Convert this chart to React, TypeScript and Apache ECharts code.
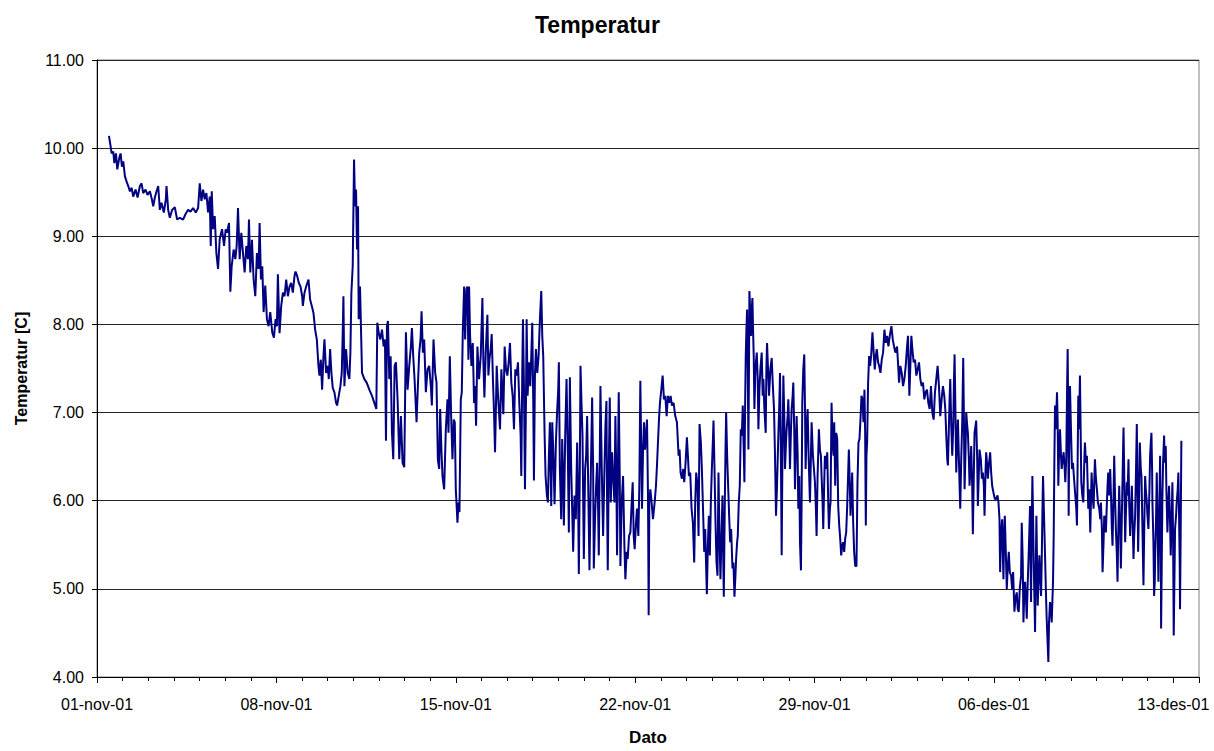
import React, { useEffect, useRef } from "react";
import * as echarts from "echarts";

const FONT = "'Liberation Sans', Arial, Helvetica, sans-serif";

// x tick labels (one every 7 days, day 0 = 01-nov-01)
const dateLabels = ["01-nov-01", "08-nov-01", "15-nov-01", "22-nov-01", "29-nov-01", "06-des-01", "13-des-01"];

// [days since 01-nov-01 00:00, temperature °C]
const week1: number[][] = [
  [0.467,10.14],[0.532,10.02],[0.571,9.94],[0.636,9.96],[0.675,9.83],[0.74,9.94],[0.791,9.76],[0.869,9.89],[0.921,9.94],[0.973,9.79],[1.025,9.85],[1.09,9.68],[1.155,9.62],[1.22,9.57],[1.285,9.51],[1.35,9.55],[1.414,9.45],[1.505,9.53],[1.583,9.44],[1.674,9.57],[1.739,9.6],[1.803,9.49],[1.894,9.53],[1.972,9.47],[2.063,9.51],[2.141,9.42],[2.193,9.34],[2.258,9.44],[2.323,9.51],[2.388,9.57],[2.452,9.3],[2.517,9.38],[2.608,9.27],[2.686,9.42],[2.712,9.57],[2.777,9.3],[2.842,9.21],[2.932,9.3],[3.036,9.33],[3.127,9.19],[3.231,9.21],[3.36,9.19],[3.451,9.25],[3.555,9.3],[3.646,9.28],[3.75,9.32],[3.854,9.27],[3.945,9.32],[4.009,9.6],[4.074,9.4],[4.139,9.53],[4.204,9.42],[4.269,9.49],[4.334,9.27],[4.399,9.45],[4.438,8.89],[4.477,9.51],[4.529,9.08],[4.593,9.23],[4.658,8.81],[4.723,8.63],[4.788,8.97],[4.879,9.08],[4.957,8.89],[5.021,9.08],[5.073,9.04],[5.151,9.15],[5.203,8.37],[5.255,8.66],[5.333,8.85],[5.398,8.74],[5.45,8.89],[5.502,9.32],[5.567,8.74],[5.632,9.04],[5.696,8.81],[5.761,8.59],[5.826,8.89],[5.891,8.74],[5.93,9.19],[5.982,8.59],[6.046,8.96],[6.111,8.51],[6.176,8.32],[6.241,8.81],[6.306,8.63],[6.345,9.15],[6.397,8.51],[6.449,8.66],[6.501,8.14],[6.566,8.44],[6.63,8.06],[6.695,7.98],[6.76,8.14],[6.838,7.91],[6.903,7.85],[6.968,8.06],[7.02,7.98],[7.058,8.57],[7.123,7.9],[7.188,8.21],[7.253,8.36]
];

const week2: number[][] = [
  [7.318,8.32],[7.383,8.51],[7.448,8.32],[7.513,8.43],[7.577,8.47],[7.642,8.36],[7.707,8.55],[7.746,8.6],[7.811,8.55],[7.876,8.47],[7.941,8.43],[8.006,8.32],[8.032,8.21],[8.097,8.36],[8.161,8.43],[8.252,8.51],[8.317,8.28],[8.382,8.21],[8.447,8.13],[8.512,7.94],[8.577,7.83],[8.641,7.53],[8.68,7.42],[8.732,7.6],[8.784,7.26],[8.836,7.64],[8.875,7.83],[8.94,7.45],[9.005,7.53],[9.044,7.38],[9.096,7.72],[9.147,7.45],[9.199,7.28],[9.264,7.23],[9.329,7.11],[9.368,7.08],[9.433,7.19],[9.498,7.3],[9.55,7.45],[9.589,7.91],[9.615,8.32],[9.654,7.3],[9.718,7.72],[9.783,7.45],[9.848,7.38],[9.887,7.68],[9.926,8.36],[9.978,8.66],[10.03,9.87],[10.069,9.34],[10.108,9.53],[10.147,8.85],[10.186,9.34],[10.211,8.06],[10.263,8.43],[10.341,7.45],[10.432,7.38],[10.523,7.34],[10.627,7.26],[10.73,7.19],[10.821,7.11],[10.899,7.04],[10.938,8.02],[10.99,7.91],[11.055,7.83],[11.12,7.94],[11.185,7.75],[11.236,7.83],[11.276,6.68],[11.314,7.98],[11.353,8.04],[11.405,7.38],[11.457,7.64],[11.509,6.77],[11.561,6.47],[11.613,7.53],[11.664,7.57],[11.729,7.15],[11.794,6.47],[11.859,6.96],[11.924,6.43],[11.989,6.38],[12.054,7.91],[12.119,7.26],[12.184,7.53],[12.248,7.75],[12.287,7.96],[12.339,7.64],[12.391,7.38],[12.469,6.89],[12.521,7.3],[12.573,7.68],[12.625,7.83],[12.664,8.15],[12.716,7.68],[12.767,7.83],[12.832,7.23],[12.897,7.49],[12.962,7.53],[13.027,7.3],[13.066,7.08],[13.131,7.83],[13.196,7.45],[13.248,7.34],[13.3,6.47],[13.351,6.36],[13.39,7.04],[13.442,6.55],[13.481,6.28],[13.546,6.13],[13.611,6.81],[13.676,7.15],[13.715,6.77],[13.767,7.64],[13.819,6.96],[13.87,6.47],[13.922,6.92],[13.961,6.89],[14.0,6.13],[14.039,5.91],[14.065,5.75],[14.104,5.98],[14.143,5.87],[14.195,7.15],[14.234,7.23],[14.273,7.91],[14.325,8.43],[14.364,7.83],[14.415,8.4],[14.454,8.43],[14.493,7.6]
];

const week3: number[][] = [
  [14.519,8.43],[14.558,7.87],[14.61,7.53],[14.662,7.79],[14.714,7.11],[14.753,7.3],[14.792,6.85],[14.844,7.75],[14.908,7.38],[14.973,7.64],[15.038,8.3],[15.077,7.57],[15.116,7.17],[15.168,7.68],[15.233,8.11],[15.272,7.42],[15.311,7.6],[15.363,7.72],[15.401,7.89],[15.453,7.34],[15.492,7.0],[15.531,6.55],[15.57,7.11],[15.596,7.53],[15.648,7.19],[15.687,7.0],[15.726,6.81],[15.778,7.49],[15.817,7.26],[15.856,6.98],[15.907,7.75],[15.959,7.49],[16.011,7.42],[16.063,7.57],[16.115,7.79],[16.167,7.34],[16.219,7.19],[16.271,6.81],[16.322,7.49],[16.374,7.42],[16.426,7.57],[16.478,7.11],[16.53,6.74],[16.556,6.28],[16.595,7.49],[16.621,8.06],[16.66,7.3],[16.699,6.13],[16.738,7.11],[16.764,8.06],[16.803,7.19],[16.855,7.57],[16.906,7.3],[16.945,7.64],[16.984,8.02],[17.023,7.11],[17.049,6.23],[17.088,7.42],[17.127,7.72],[17.179,7.45],[17.231,7.64],[17.283,8.06],[17.335,8.38],[17.374,7.87],[17.412,7.64],[17.464,6.77],[17.503,6.28],[17.555,6.06],[17.594,5.98],[17.633,6.51],[17.672,6.89],[17.724,5.94],[17.763,6.89],[17.802,6.58],[17.854,5.96],[17.906,6.66],[17.958,7.04],[17.997,7.26],[18.022,7.57],[18.061,6.36],[18.113,5.79],[18.152,6.7],[18.191,6.21],[18.217,5.72],[18.269,6.74],[18.321,7.38],[18.373,6.51],[18.412,5.64],[18.451,7.4],[18.503,6.36],[18.541,5.91],[18.58,5.42],[18.632,6.06],[18.684,5.79],[18.736,6.66],[18.775,5.98],[18.801,5.17],[18.84,6.36],[18.866,7.53],[18.905,7.11],[18.944,6.74],[18.996,5.34],[19.047,6.36],[19.086,6.51],[19.125,6.96],[19.177,5.98],[19.216,5.21],[19.268,6.28],[19.32,7.17],[19.359,6.36],[19.385,5.23],[19.437,5.83],[19.476,6.17],[19.515,6.43],[19.554,5.91],[19.58,5.38],[19.619,6.51],[19.644,7.3],[19.696,6.36],[19.748,5.6],[19.787,6.17],[19.839,6.85],[19.878,7.13],[19.904,5.98],[19.93,5.21],[19.969,6.36],[20.008,7.17],[20.047,5.98],[20.099,6.55],[20.138,6.28],[20.19,5.98],[20.228,6.96],[20.267,6.21],[20.293,5.38],[20.332,6.51],[20.358,7.23],[20.397,6.28],[20.423,5.26],[20.475,5.98],[20.527,6.28],[20.579,5.49],[20.617,5.11],[20.669,5.42],[20.708,5.34],[20.76,5.6],[20.812,5.64],[20.864,5.98],[20.903,6.21],[20.942,5.6],[20.98,5.45],[21.032,5.75],[21.071,5.91],[21.123,5.6],[21.162,6.17],[21.201,7.36],[21.24,6.51],[21.266,5.91],[21.305,6.55],[21.344,6.89],[21.383,6.58],[21.422,6.74],[21.461,6.92],[21.5,6.06],[21.526,4.7],[21.552,5.98],[21.591,6.13],[21.642,5.98],[21.694,5.79]
];

const week4: number[][] = [
  [21.72,5.79],[21.76,5.98],[21.811,6.17],[21.85,6.4],[21.889,6.66],[21.928,6.92],[21.967,7.11],[22.019,7.26],[22.071,7.42],[22.123,7.15],[22.175,7.19],[22.227,6.96],[22.278,7.19],[22.33,7.11],[22.382,7.19],[22.434,7.08],[22.499,7.11],[22.564,6.96],[22.629,6.89],[22.668,6.66],[22.694,6.51],[22.733,6.58],[22.771,6.32],[22.823,6.25],[22.875,6.36],[22.914,6.21],[22.966,6.43],[23.018,6.72],[23.057,6.51],[23.096,6.28],[23.148,6.32],[23.2,5.91],[23.252,5.75],[23.303,5.3],[23.342,5.98],[23.381,6.32],[23.433,6.17],[23.472,5.6],[23.511,6.87],[23.563,6.66],[23.602,6.36],[23.654,5.83],[23.693,5.42],[23.732,5.68],[23.77,5.23],[23.797,4.94],[23.835,5.49],[23.874,5.83],[23.913,5.38],[23.952,5.98],[23.991,6.36],[24.03,6.66],[24.056,6.91],[24.095,6.36],[24.134,5.75],[24.173,5.3],[24.212,5.15],[24.25,6.32],[24.289,5.6],[24.328,5.11],[24.367,5.6],[24.406,6.06],[24.432,5.42],[24.458,4.91],[24.497,5.98],[24.523,6.55],[24.549,7.0],[24.588,6.51],[24.614,6.28],[24.666,5.83],[24.705,5.53],[24.744,5.68],[24.796,5.23],[24.834,5.3],[24.873,4.91],[24.912,5.15],[24.938,5.34],[24.977,5.53],[25.003,5.6],[25.042,5.98],[25.081,6.17],[25.12,6.81],[25.159,6.74],[25.198,7.08],[25.237,6.55],[25.262,6.21],[25.288,7.04],[25.314,7.64],[25.34,7.94],[25.367,8.17],[25.393,7.49],[25.418,6.58],[25.444,7.68],[25.457,8.38],[25.496,8.09],[25.522,7.87],[25.548,8.17],[25.574,8.3],[25.6,7.94],[25.626,7.64],[25.652,7.04],[25.691,7.49],[25.743,7.68],[25.782,7.38],[25.808,6.81],[25.847,7.26],[25.886,7.49],[25.937,7.68],[25.976,7.19],[26.002,7.38],[26.041,7.04],[26.093,6.77],[26.119,7.49],[26.145,7.79],[26.184,7.49],[26.223,7.19],[26.275,7.49],[26.327,7.62],[26.366,7.34],[26.417,7.04],[26.456,6.51],[26.495,5.83],[26.534,6.17],[26.586,6.74],[26.625,7.11],[26.651,7.45],[26.69,6.36],[26.716,5.38],[26.742,6.36],[26.781,7.42],[26.82,6.92],[26.846,6.36],[26.885,6.66],[26.91,6.81],[26.949,6.96],[26.975,7.15],[27.014,6.74],[27.04,6.36],[27.079,6.81],[27.105,7.04],[27.144,7.19],[27.17,7.34],[27.209,6.74],[27.235,6.13],[27.274,6.66],[27.3,6.96],[27.339,6.51],[27.365,5.91],[27.404,6.28],[27.43,5.53],[27.468,5.21],[27.494,5.98],[27.52,7.11],[27.559,7.49],[27.598,7.66],[27.624,7.11],[27.65,6.36],[27.689,6.81],[27.728,7.04],[27.767,6.51],[27.819,5.98],[27.858,6.51],[27.884,6.89],[27.936,6.51],[27.975,6.36],[28.014,6.21],[28.052,5.91],[28.078,5.6],[28.117,6.28],[28.169,6.81],[28.208,6.58],[28.247,6.51],[28.273,6.28],[28.312,5.98],[28.338,5.68],[28.377,6.21],[28.403,6.51],[28.442,6.36],[28.494,6.55],[28.533,5.98],[28.559,5.68],[28.597,5.91],[28.623,5.98],[28.662,7.11],[28.701,6.66],[28.74,6.51]
];

const week5: number[][] = [
  [28.766,6.89],[28.805,6.17],[28.844,6.77],[28.883,6.7],[28.922,5.94],[28.961,5.72],[29.0,5.57],[29.039,5.38],[29.078,5.49],[29.116,5.53],[29.155,5.42],[29.194,5.57],[29.233,5.64],[29.272,5.94],[29.311,6.32],[29.337,6.58],[29.376,6.17],[29.402,5.83],[29.441,6.09],[29.467,6.32],[29.506,5.75],[29.544,5.42],[29.584,5.26],[29.635,5.26],[29.674,6.21],[29.713,6.66],[29.752,6.7],[29.791,6.92],[29.83,7.19],[29.869,7.15],[29.908,6.89],[29.947,7.26],[29.973,6.77],[29.999,5.72],[30.024,6.51],[30.05,6.66],[30.089,7.34],[30.128,7.64],[30.167,7.53],[30.206,7.64],[30.258,7.91],[30.297,7.72],[30.349,7.49],[30.388,7.64],[30.427,7.72],[30.479,7.57],[30.518,7.53],[30.57,7.45],[30.621,7.6],[30.673,7.68],[30.725,7.94],[30.777,7.79],[30.829,7.87],[30.881,7.75],[30.933,7.87],[30.998,7.98],[31.05,7.83],[31.101,7.75],[31.153,7.68],[31.218,7.75],[31.27,7.49],[31.296,7.34],[31.348,7.53],[31.4,7.45],[31.452,7.3],[31.504,7.38],[31.556,7.53],[31.608,7.75],[31.646,7.87],[31.698,7.19],[31.737,7.53],[31.776,7.87],[31.815,7.72],[31.867,7.57],[31.919,7.6],[31.971,7.42],[32.023,7.49],[32.075,7.57],[32.127,7.38],[32.178,7.3],[32.23,7.34],[32.282,7.15],[32.334,7.23],[32.386,7.26],[32.438,7.11],[32.49,7.04],[32.542,7.3],[32.594,7.0],[32.646,6.92],[32.697,7.23],[32.749,7.38],[32.801,7.53],[32.853,7.3],[32.905,6.96],[32.957,7.15],[33.009,7.3],[33.061,7.19],[33.1,7.04],[33.139,6.74],[33.177,6.47],[33.203,6.4],[33.242,6.85],[33.268,7.15],[33.294,7.38],[33.333,6.85],[33.372,6.51],[33.411,6.85],[33.437,7.34],[33.463,7.66],[33.489,7.15],[33.528,6.32],[33.567,6.7],[33.593,6.92],[33.632,6.47],[33.658,6.17],[33.684,5.91],[33.722,6.47],[33.761,6.89],[33.8,7.62],[33.826,6.96],[33.852,6.13],[33.891,6.58],[33.917,7.0],[33.956,6.85],[33.982,6.77],[34.021,6.47],[34.047,6.17],[34.086,6.4],[34.111,6.62],[34.15,6.17],[34.176,5.62],[34.215,6.32],[34.241,6.77],[34.28,6.85],[34.306,6.91],[34.345,6.47],[34.371,5.94],[34.41,6.32],[34.436,6.58],[34.488,6.47],[34.527,6.25],[34.566,6.32],[34.605,6.17],[34.631,5.83],[34.669,6.32],[34.696,6.55],[34.734,6.4],[34.76,6.25],[34.799,6.4],[34.851,6.55],[34.89,6.32],[34.929,6.17],[34.981,6.09],[35.033,6.02],[35.085,6.02],[35.137,6.06],[35.176,5.98],[35.215,5.79],[35.24,5.19],[35.279,5.64],[35.318,5.79],[35.344,5.42],[35.37,5.11],[35.396,5.64],[35.422,5.83],[35.461,5.42],[35.5,5.0],[35.539,5.26],[35.578,5.42],[35.617,5.19],[35.669,5.15],[35.708,5.0],[35.747,5.19],[35.798,4.74],[35.837,4.89],[35.889,4.96],[35.928,4.77],[35.967,4.74],[36.006,5.0],[36.058,5.15]
];

const week6: number[][] = [
  [36.084,5.75],[36.123,5.3],[36.149,4.62],[36.188,5.0],[36.214,5.08],[36.253,4.85],[36.279,4.66],[36.318,5.08],[36.344,5.3],[36.383,5.68],[36.408,5.94],[36.447,4.85],[36.473,5.68],[36.499,6.28],[36.525,5.83],[36.551,5.3],[36.577,4.92],[36.603,4.51],[36.629,5.15],[36.655,5.83],[36.681,5.3],[36.707,4.81],[36.733,5.08],[36.772,5.38],[36.798,5.15],[36.837,4.92],[36.862,5.3],[36.888,5.83],[36.914,6.28],[36.94,5.98],[36.966,5.68],[37.005,5.23],[37.031,4.92],[37.057,4.66],[37.096,4.36],[37.122,4.17],[37.148,4.62],[37.187,4.85],[37.226,4.77],[37.252,4.62],[37.278,4.85],[37.304,5.08],[37.33,5.6],[37.356,6.43],[37.382,7.08],[37.408,6.81],[37.434,7.0],[37.459,7.23],[37.485,6.89],[37.511,6.17],[37.537,6.51],[37.576,6.81],[37.615,6.51],[37.641,6.36],[37.68,6.47],[37.719,6.55],[37.758,6.36],[37.784,6.21],[37.823,6.51],[37.849,7.19],[37.875,7.72],[37.901,6.81],[37.914,5.83],[37.94,6.81],[37.966,7.3],[38.004,6.81],[38.043,6.36],[38.082,6.43],[38.134,6.21],[38.173,6.06],[38.212,5.91],[38.238,5.72],[38.264,6.43],[38.29,7.19],[38.316,6.81],[38.355,7.42],[38.381,6.81],[38.407,6.21],[38.446,6.06],[38.484,5.98],[38.523,6.43],[38.549,6.66],[38.588,6.43],[38.627,6.51],[38.653,6.21],[38.679,5.91],[38.718,6.13],[38.757,5.64],[38.783,5.98],[38.809,6.32],[38.848,6.06],[38.887,5.91],[38.913,6.21],[38.939,6.47],[38.978,6.25],[39.016,6.13],[39.055,5.98],[39.107,5.91],[39.146,5.79],[39.172,5.98],[39.211,5.68],[39.237,5.19],[39.276,5.53],[39.302,5.83],[39.341,5.75],[39.367,5.64],[39.406,5.98],[39.432,6.17],[39.458,6.32],[39.497,6.06],[39.535,6.36],[39.574,5.98],[39.6,5.68],[39.626,5.49],[39.665,6.06],[39.691,6.51],[39.73,5.98],[39.756,5.68],[39.795,5.38],[39.821,5.08],[39.847,5.6],[39.886,6.17],[39.925,5.68],[39.951,5.23],[39.99,5.83],[40.028,6.43],[40.055,6.83],[40.08,6.36],[40.119,5.53],[40.145,5.83],[40.184,6.21],[40.21,6.06],[40.249,6.47],[40.275,5.98],[40.314,5.6],[40.34,5.83],[40.379,6.17],[40.418,5.68],[40.444,5.34],[40.47,5.6],[40.508,5.83],[40.547,6.43],[40.573,6.87],[40.599,6.25],[40.625,5.42],[40.664,6.06],[40.69,6.66],[40.729,6.36],[40.755,6.28],[40.794,5.68],[40.833,5.04],[40.859,5.6],[40.898,6.28],[40.924,6.13],[40.963,5.98],[40.989,5.83],[41.027,5.68],[41.066,6.13],[41.092,6.51],[41.118,6.66],[41.144,6.77],[41.17,6.36],[41.183,5.98],[41.222,5.53],[41.248,4.92],[41.274,5.08],[41.287,5.34],[41.326,5.83],[41.352,6.32],[41.378,5.83],[41.417,5.08],[41.456,5.98],[41.482,6.51],[41.508,5.68],[41.521,4.55],[41.547,5.3],[41.573,6.06],[41.599,6.43],[41.638,6.74],[41.663,6.43],[41.702,6.62],[41.728,6.13],[41.767,5.64],[41.806,5.98],[41.832,6.17],[41.871,5.75],[41.897,5.38],[41.936,5.83],[41.962,6.21],[41.988,5.6],[42.014,4.47],[42.04,5.08],[42.066,5.68],[42.105,5.83],[42.13,5.98],[42.169,6.13],[42.195,6.32],[42.221,5.83],[42.247,5.3],[42.26,4.77],[42.286,5.68],[42.312,6.68]
];

export default function App() {
  const ref = useRef<HTMLDivElement>(null);

  useEffect(() => {
    if (!ref.current) return;
    const chart = echarts.init(ref.current, null, { renderer: "svg" });
    const series = [...week1, ...week2, ...week3, ...week4, ...week5, ...week6];

    chart.setOption({
      animation: false,
      backgroundColor: "#ffffff",
      textStyle: { fontFamily: FONT, color: "#000" },
      title: {
        text: "Temperatur",
        left: 530,
        top: 8,
        textStyle: { fontFamily: FONT, fontSize: 23, fontWeight: "bold", color: "#000" },
      },
      grid: {
        left: 97,
        right: 15,
        top: 60,
        bottom: 71,
        show: true,
        borderColor: "#808080",
        borderWidth: 1,
        backgroundColor: "transparent",
      },
      xAxis: [
        {
          type: "value",
          min: 0,
          max: 43,
          interval: 7,
          position: "bottom",
          name: "Dato",
          nameLocation: "middle",
          nameGap: 52,
          nameTextStyle: { fontFamily: FONT, fontSize: 17, fontWeight: "bold", color: "#000" },
          axisLine: { show: true, onZero: false, lineStyle: { color: "#000", width: 1 } },
          axisTick: { show: true, length: 6, lineStyle: { color: "#000" } },
          axisLabel: {
            fontFamily: FONT,
            fontSize: 16,
            color: "#000",
            margin: 19,
            formatter: (v: number) => (v % 7 === 0 ? dateLabels[v / 7] ?? "" : ""),
          },
          splitLine: { show: false },
        },
        {
          type: "value",
          min: 0,
          max: 43,
          interval: 1,
          position: "bottom",
          axisLine: { show: false, onZero: false },
          axisTick: { show: true, length: 4, lineStyle: { color: "#000" } },
          axisLabel: { show: false },
          splitLine: { show: false },
        },
      ],
      yAxis: {
        type: "value",
        min: 4,
        max: 11,
        interval: 1,
        name: "Temperatur [C]",
        nameLocation: "middle",
        nameGap: 68,
        nameRotate: 90,
        nameTextStyle: { fontFamily: FONT, fontSize: 16, fontWeight: "bold", color: "#000" },
        axisLine: { show: true, onZero: false, lineStyle: { color: "#000", width: 1 } },
        axisTick: { show: true, length: 5, lineStyle: { color: "#000" } },
        axisLabel: {
          fontFamily: FONT,
          fontSize: 16,
          color: "#000",
          margin: 13,
          formatter: (v: number) => v.toFixed(2),
        },
        splitLine: { show: true, lineStyle: { color: "#262626", width: 1 } },
      },
      series: [
        {
          type: "line",
          xAxisIndex: 0,
          data: series,
          showSymbol: false,
          symbol: "none",
          lineStyle: { color: "#000080", width: 2 },
          z: 3,
        },
      ],
    });

    return () => chart.dispose();
  }, []);

  return (
    <div
      ref={ref}
      style={{ position: "absolute", left: 0, top: 0, width: 1214, height: 751, background: "#fff" }}
    />
  );
}
